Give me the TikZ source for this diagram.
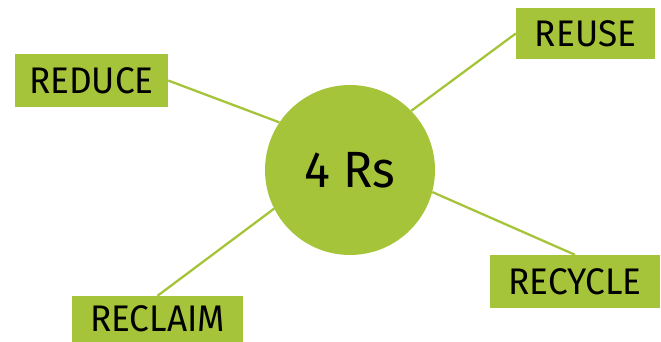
\documentclass[tikz,border=0pt]{standalone}
\usepackage{fontspec}
\setmainfont{Fira Sans}[FakeStretch=0.95]
\usepackage{tikz}
\usetikzlibrary{shapes}
\definecolor{leaf}{HTML}{A6C43A}
\tikzset{
  rsbox/.style={rectangle, fill=leaf, inner sep=0pt, font=\fontsize{37}{37}\selectfont},
  rsline/.style={draw=leaf, line width=2.3pt},
}
\newcommand{\rsnode}[4] {\node at (#1) (#2) [rsbox, minimum width=#3, minimum height=#4] {#2};}
\newcommand{\rslink}[2] {\draw [rsline] (#1) -- (#2);}

\begin{document}
\begin{tikzpicture}[x=1pt, y=-1pt]
\useasboundingbox (0,0) rectangle (661,342);

\node at (350,170) (hub) [circle, fill=leaf, minimum size=170pt, inner sep=0pt,
  font=\fontsize{51}{51}\selectfont] {4 Rs};

\rsnode {91.5,80.5}{REDUCE}{153pt}{53pt};
\rsnode {585.5,33.5}{REUSE}{139pt}{51pt};
\rsnode {575,281.5}{RECYCLE}{170pt}{53pt};
\rsnode {157.5,319}{RECLAIM}{171pt}{46pt};

\rslink {REDUCE.east}{hub.146};
\rslink {REUSE.west}{hub.44};
\rslink {RECYCLE.north}{hub.-15};
\rslink {RECLAIM.north}{hub.207};

\end{tikzpicture}
\end{document}
